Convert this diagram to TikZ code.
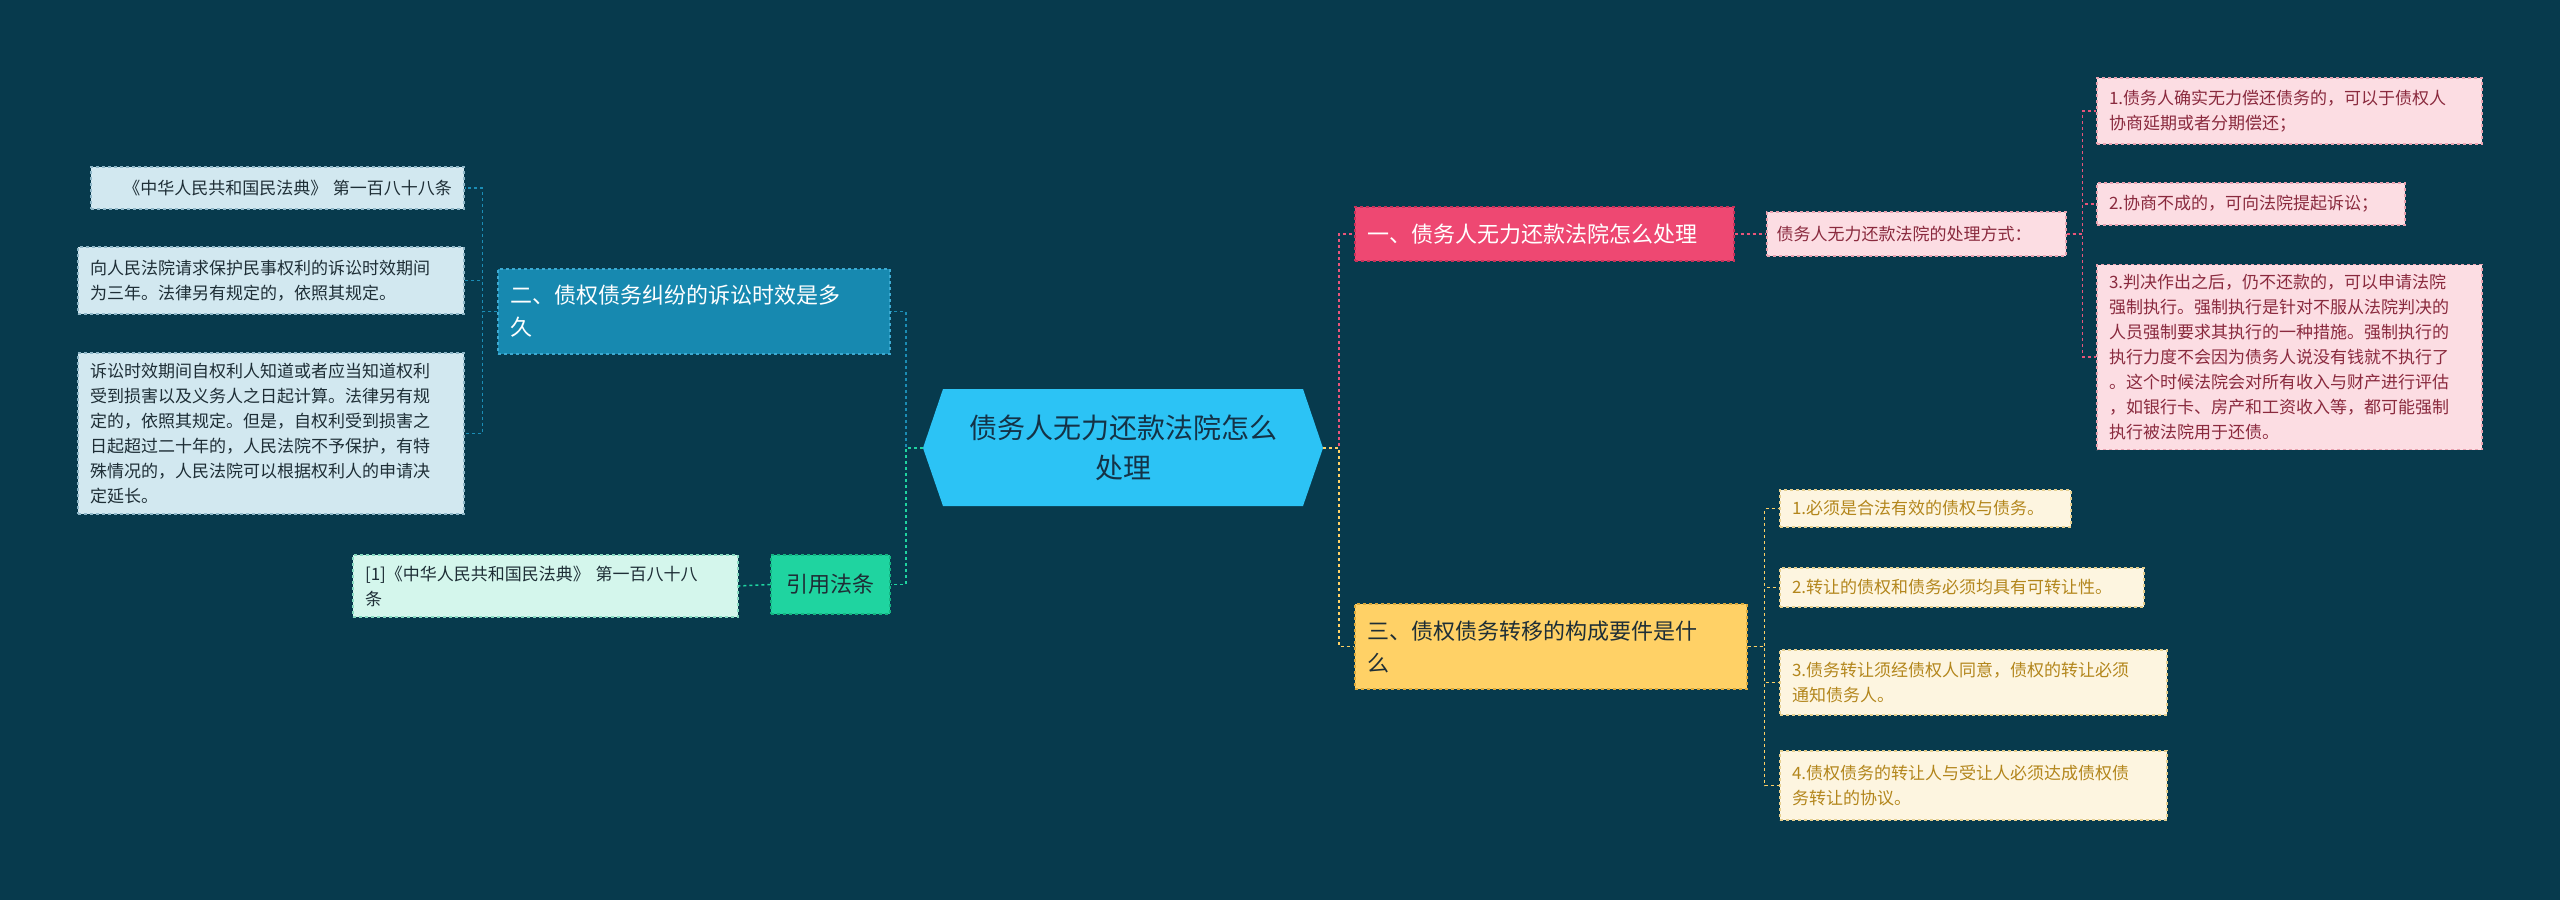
\documentclass[tikz,border=0pt]{standalone}
\usepackage{fontspec}
\setmainfont{Noto Sans CJK SC}
\begin{document}
\begin{tikzpicture}[x=1pt,y=-1pt,
  base/.style={draw, dashed, line width=1.2pt, inner sep=0pt, align=left, font=\fontsize{17}{25}\selectfont},
  leafP/.style={base, fill=pinkL, draw=pinkD, text=pinkT},
  leafB/.style={base, fill=blueL, draw=blueD, text=blueT},
  leafG/.style={base, fill=greenL, draw=greenD, text=blueT},
  leafY/.style={base, fill=yelL, draw=yelD, text=yelT},
  br/.style={base, font=\fontsize{22}{32}\selectfont},
  cP/.style={draw=pinkC, dashed, line width=1.5pt},
  cB/.style={draw=blueC, dashed, line width=1.5pt},
  cG/.style={draw=greenC, dashed, line width=1.5pt},
  cY/.style={draw=yelC, dashed, line width=1.5pt}]
\definecolor{bg}{HTML}{073A4D}
\definecolor{pinkL}{HTML}{FCDDE3}\definecolor{pinkD}{HTML}{E9A3B1}\definecolor{pinkT}{HTML}{8A2A3E}\definecolor{pinkC}{HTML}{E8557A}
\definecolor{blueL}{HTML}{D2E8F0}\definecolor{blueD}{HTML}{8FB7C8}\definecolor{blueT}{HTML}{1E2E36}\definecolor{blueC}{HTML}{1B8DB5}
\definecolor{greenL}{HTML}{D4F6EC}\definecolor{greenD}{HTML}{86D9C0}\definecolor{greenC}{HTML}{1FD4A0}
\definecolor{yelL}{HTML}{FDF5E0}\definecolor{yelD}{HTML}{E6CF8E}\definecolor{yelT}{HTML}{B3861C}\definecolor{yelC}{HTML}{FFD166}
\fill[bg] (0,0) rectangle (2560,900);
\useasboundingbox (0,0) rectangle (2560,900);
% center
\fill[draw=none, fill={rgb,255:red,44;green,195;blue,245}] (923,448) -- (943,389) -- (1303,389) -- (1323,448) -- (1303,506) -- (943,506) -- cycle;
\node[inner sep=0pt, minimum width=400pt, minimum height=117pt, align=center, text={rgb,255:red,20;green,50;blue,70}, font=\fontsize{28}{40}\selectfont] (c) at (1123,448) {债务人无力还款法院怎么\\处理};
% branch 1
\node[br, fill={rgb,255:red,238;green,72;blue,114}, draw={rgb,255:red,200;green,50;blue,90}, text=white, minimum width=379pt, minimum height=54pt, text width=355pt] (b1) at (1544.5,234) {一、债务人无力还款法院怎么处理};
\node[leafP, minimum width=299pt, minimum height=44pt, text width=280pt] (b1a) at (1916.5,234) {债务人无力还款法院的处理方式：};
\node[leafP, minimum width=385pt, minimum height=66pt, text width=361pt] (p1) at (2289.5,111) {1.债务人确实无力偿还债务的，可以于债权人\\协商延期或者分期偿还；};
\node[leafP, minimum width=308pt, minimum height=42pt, text width=284pt] (p2) at (2251,204) {2.协商不成的，可向法院提起诉讼；};
\node[leafP, minimum width=385pt, minimum height=185pt, text width=361pt] (p3) at (2289.5,357) {3.判决作出之后，仍不还款的，可以申请法院\\强制执行。强制执行是针对不服从法院判决的\\人员强制要求其执行的一种措施。强制执行的\\执行力度不会因为债务人说没有钱就不执行了\\。这个时候法院会对所有收入与财产进行评估\\，如银行卡、房产和工资收入等，都可能强制\\执行被法院用于还债。};
\draw[cP] (c.east) -- ++(16,0) |- (b1.west);
\draw[cP] (b1.east) -- (b1a.west);
\draw[cP] (b1a.east) -- ++(16,0) |- (p1.west);
\draw[cP] (b1a.east) -- ++(16,0) |- (p2.west);
\draw[cP] (b1a.east) -- ++(16,0) |- (p3.west);
% branch 3
\node[br, fill=yelC, draw={rgb,255:red,220;green,170;blue,60}, text=blueT, minimum width=392pt, minimum height=85pt, text width=368pt] (b3) at (1551,646.5) {三、债权债务转移的构成要件是什\\么};
\node[leafY, minimum width=291pt, minimum height=37pt, text width=267pt] (y1) at (1925.5,508.5) {1.必须是合法有效的债权与债务。};
\node[leafY, minimum width=364pt, minimum height=39pt, text width=340pt] (y2) at (1962,587.5) {2.转让的债权和债务必须均具有可转让性。};
\node[leafY, minimum width=387pt, minimum height=65pt, text width=363pt] (y3) at (1973.5,682.5) {3.债务转让须经债权人同意，债权的转让必须\\通知债务人。};
\node[leafY, minimum width=387pt, minimum height=69pt, text width=363pt] (y4) at (1973.5,785.5) {4.债权债务的转让人与受让人必须达成债权债\\务转让的协议。};
\draw[cY] (c.east) -- ++(16,0) |- (b3.west);
\foreach \n in {y1,y2,y3,y4} \draw[cY] (b3.east) -- ++(17,0) |- (\n.west);
% branch 2
\node[br, fill={rgb,255:red,23;green,137;blue,176}, draw={rgb,255:red,60;green,170;blue,210}, text=white, minimum width=392pt, minimum height=85pt, text width=368pt] (b2) at (694,311.5) {二、债权债务纠纷的诉讼时效是多\\久};
\node[leafB, minimum width=373pt, minimum height=42pt, text width=349pt, align=right] (l1) at (277.5,188) {《中华人民共和国民法典》 第一百八十八条};
\node[leafB, minimum width=386pt, minimum height=67pt, text width=362pt] (l2) at (271,280.5) {向人民法院请求保护民事权利的诉讼时效期间\\为三年。法律另有规定的，依照其规定。};
\node[leafB, minimum width=386pt, minimum height=161pt, text width=362pt] (l3) at (271,433.5) {诉讼时效期间自权利人知道或者应当知道权利\\受到损害以及义务人之日起计算。法律另有规\\定的，依照其规定。但是，自权利受到损害之\\日起超过二十年的，人民法院不予保护，有特\\殊情况的，人民法院可以根据权利人的申请决\\定延长。};
\draw[cB] (c.west) -- ++(-17,0) |- (b2.east);
\foreach \n in {l1,l2,l3} \draw[cB] (b2.west) -- ++(-15,0) |- (\n.east);
% cite
\node[base, fill=greenC, draw={rgb,255:red,20;green,180;blue,130}, text=blueT, font=\fontsize{22}{32}\selectfont, minimum width=119pt, minimum height=59pt, align=center] (g) at (830.5,584.5) {引用法条};
\node[leafG, minimum width=385pt, minimum height=62pt, text width=361pt] (g1) at (545.5,586) {[1]《中华人民共和国民法典》 第一百八十八\\条};
\draw[cG] (c.west) -- ++(-17,0) |- (g.east);
\draw[cG] (g.west) -- (g1.east);
\end{tikzpicture}
\end{document}
